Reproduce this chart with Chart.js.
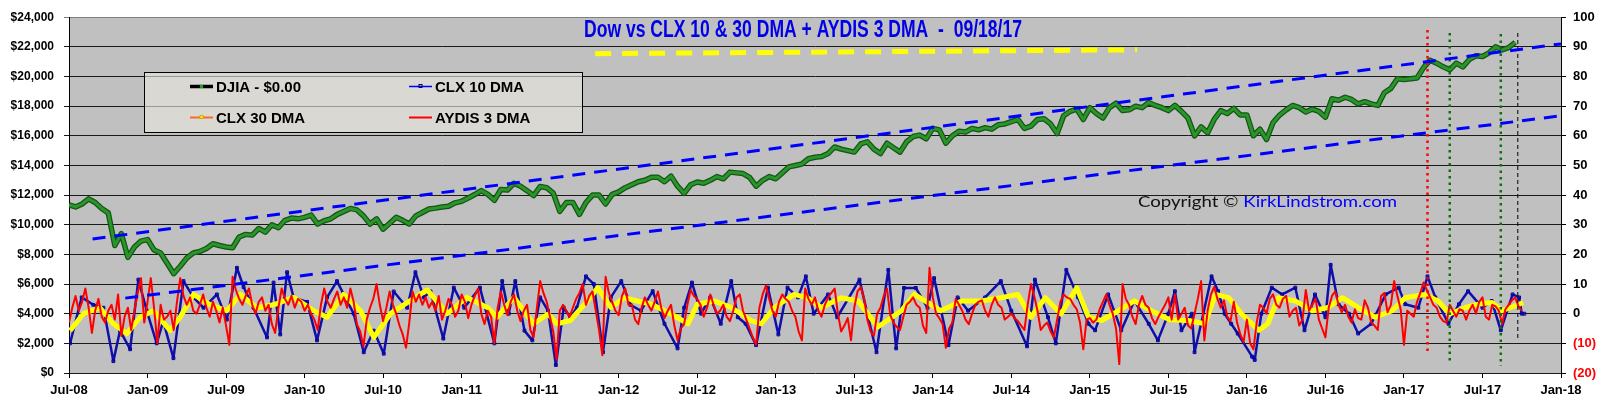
<!DOCTYPE html>
<html><head><meta charset="utf-8">
<script src="https://cdn.jsdelivr.net/npm/chart.js@4/dist/chart.umd.min.js"></script>
<style>html,body{margin:0;padding:0;background:#fff;overflow:hidden}canvas{display:block}</style>
</head><body>
<canvas id="c" width="1600" height="399"></canvas>
<script>
// ---------- DATA ----------
const titleText = "Dow vs CLX 10 & 30 DMA + AYDIS 3 DMA  -  09/18/17";
const xTickLabels = ["Jul-08","Jan-09","Jul-09","Jan-10","Jul-10","Jan-11","Jul-11","Jan-12","Jul-12","Jan-13","Jul-13","Jan-14","Jul-14","Jan-15","Jul-15","Jan-16","Jul-16","Jan-17","Jul-17","Jan-18"];
const xTickMonths = [0,6,12,18,24,30,36,42,48,54,60,66,72,78,84,90,96,102,108,114];
const leftTickValues = [0,2000,4000,6000,8000,10000,12000,14000,16000,18000,20000,22000,24000];
const rightTickValues = [-20,-10,0,10,20,30,40,50,60,70,80,90,100];

// DJIA, twice a month starting Jul-08 (month 0)
const djiaStartMonth = 0, djiaStepMonths = 0.5;
const djiaValues = [
11350,11200,11400,11750,11500,11100,10800,8600,9400,7800,8500,8900,
9000,8300,8100,7400,6700,7200,7760,8100,8200,8400,8720,8600,
8500,8450,9170,9350,9300,9750,9500,10000,9800,10300,10450,10400,
10500,10650,10050,10270,10400,10700,10900,11100,11000,10600,10050,10400,
9700,10100,10500,10300,10050,10600,10830,11060,11120,11200,11250,11480,
11580,11800,12040,12300,12050,11650,12380,12340,12800,12600,12300,11960,
12580,12500,12130,10900,11500,11500,10700,11500,12000,12000,11400,12050,
12220,12500,12700,12900,13000,13200,13200,12900,13280,12600,12120,12700,
12880,12800,13000,13250,13100,13550,13500,13450,13200,12600,13000,13250,
13100,13500,13900,14000,14100,14450,14550,14600,14800,15250,15100,15000,
14900,15450,15600,15100,14800,15500,15200,14900,15600,15950,16050,15800,
16500,16400,15500,16000,16300,16250,16500,16400,16550,16450,16750,16800,
16950,17100,16500,16650,17100,17150,16800,16150,17350,17650,17800,17100,
17900,17500,17200,17900,18200,17700,17750,18000,17900,18250,18050,17900,
17700,18050,17650,17200,16000,16600,16200,17100,17700,17500,17850,17400,
17400,16000,16450,15750,16900,17400,17750,18050,17900,17600,17800,17650,
17250,18500,18400,18600,18450,18150,18300,18150,18050,18900,19200,19850,
19800,19850,19900,20600,21100,20900,20650,20450,20900,20650,21150,21400,
21350,21600,22000,21800,21950,22300];

// CLX 10 DMA (right axis)
const clx10Months = [0.08,0.97,1.86,2.63,3.39,3.9,4.67,5.3,5.94,6.7,7.2,7.98,8.75,9.51,10.28,11.3,12.06,12.83,13.34,14.1,15.13,15.63,16.14,16.66,17.16,18.19,18.95,19.72,20.48,20.99,21.75,22.52,23.28,24.05,24.81,25.84,26.47,27.1,27.62,
28.6,29.4,30.2,31.4,32.5,33.1,33.6,34.1,34.8,35.4,36.0,36.6,37.2,37.8,38.3,38.8,39.5,40.1,40.8,41.4,42.2,42.9,43.7,44.6,45.5,46.5,47.0,47.6,48.3,49.0,49.8,50.6,51.1,51.7,52.5,53.4,54.2,54.9,55.7,56.3,
56.9,58.0,58.7,60.4,61.0,61.7,62.6,63.2,63.8,64.7,65.6,66.1,67.2,67.9,68.7,70.0,71.2,72.0,73.2,73.8,74.8,75.4,76.2,77.1,77.9,78.4,79.4,80.4,81.4,82.5,83.2,84.0,84.5,
85.0,85.8,86.0,86.5,87.3,87.8,88.3,88.8,89.3,90.4,90.6,91.1,91.9,92.7,93.7,94.4,95.2,96.0,96.4,97.0,97.8,98.5,99.5,100.6,101.6,102.1,103.1,103.8,104.4,105.4,106.2,106.9,108.0,108.7,109.4,110.3,110.8,111.0,111.2];
const clx10Values = [-10,5.5,3,2,-16,-5.7,-12,11.5,1,-10,-2.5,-15,11,5.5,2,6.5,-2,15.5,9,2,-8,10.5,-7,14,5.5,4,-9,5.5,11,6.5,0,-13,-5.7,-13.5,7.5,2,14,5.5,7.5,
-8.4,8.8,2,8.8,-10,11,0,11,-5.7,-9,5.5,1,-17.3,2,-1.2,2,12.6,10,-13,5.5,11,3,1,7.6,-3.4,-11.7,2,10.5,0,5.5,-3.4,11,-1.2,-3.4,-10.6,8.8,-7,8.8,5.5,12.6,
0,6.5,-1.2,11.5,0,-13,14.8,-11.7,8.7,8.7,2,12,-10.6,5.5,1,5.5,11,1,-11,11.5,-1.2,-10,14.8,5.5,-3.4,-5.6,6.5,-5.6,4.3,-3.4,-9,0,7.6,
-5.6,0,-13,-3.4,12.6,7.6,0,-3.4,-6.7,-14.5,-15.6,0,8.8,6.5,8.8,-5.6,6.5,-1.2,16.5,3.2,0,-6.7,-3.4,6.5,8.8,3.2,2,12.6,5.5,-3.4,3.2,7.6,2,4.3,-5.6,6.5,5.5,0,0];

// CLX 30 DMA (right axis)
const clx30Months = [0.08,1.1,2.37,3.39,4.41,5.43,6.45,7.73,8.49,9.51,10.79,12.06,13.09,14.36,15.63,17.17,18.7,19.72,20.99,22.27,23.29,24.56,25.58,27.37,
28.9,30.4,32.0,32.7,34.0,35.5,36.6,37.3,38.3,39.4,40.4,41.4,42.4,43.4,44.5,46.0,47.3,48.0,49.3,50.6,52.1,52.9,53.9,55.4,
56.4,57.5,59.0,60.3,61.8,63.6,64.6,66.6,68.2,69.7,71.2,72.5,73.5,74.6,75.8,77.0,77.9,78.9,80.2,81.4,82.7,84.1,
85.5,86.8,87.6,88.6,89.6,90.9,91.6,92.4,93.7,95.0,96.2,97.3,98.5,99.8,101.1,102.1,103.6,104.6,105.5,106.7,107.7,108.7,109.5,110.8,111.1];
const clx30Values = [-5.7,0,2,-3.4,-6.7,-1.2,1,-5.7,-1.2,6.5,3,1,6.5,2,3,5.5,1,-1.2,6.5,1,-8,0,3,8,
0,5.5,2,-1.2,5.5,-3.4,-0.1,-3.4,-2.3,3.2,8.7,2.1,5.4,4.3,3.2,-0.1,-3.4,3.2,4.3,2.1,-2.3,-3.4,2.1,6.5,
5.4,2.1,5.4,4.3,-4.5,1,6.5,1,4.3,4.3,5.4,6.5,-1.2,5.4,-0.1,8.7,-1.2,-2.3,1,4.3,1,-2,
-2.3,-3.4,6.5,5.4,-0.1,-5.6,-3.4,5.4,4.3,1,2.1,5.4,2.1,-1.2,1,5.4,6.5,4.3,-0.1,2.1,3.2,3.8,1,3.2,3.8];

// AYDIS 3 DMA (right axis), four readings a month starting Jul-08
const aydisStartMonth = 0, aydisStepMonths = 0.25;
const aydis3Values = [
-3,2,6,1,4,8.5,2,-6.5,1,5,-1,-3,1,3,-2,6.5,-7.5,-1,2,-5.5,1,7,12,-3,4,12,2,-10,3,-2,-1,1,-5.5,4,12,6,3,5.5,1,0,3,6.5,2,-1,4,1,-3,2,-4,-10.5,12.5,8,5,3,6,8.5,3,0,4,5.5,1,3,-3.5,-6.5,2,8.5,5,3,6,2,5,4,1,3,0,-2,-5.5,3,8.5,4,2,5,7.5,3,5.5,2,8.5,4,-3.5,-6,-11,-2,2,5,10,3,-2.5,2,7.5,3,0,-4,-7,-11.5,-3,7.5,4,6.5,3,5.5,2,4,1,
6,-2,1,5,3,-1,1,6.5,4,-1.5,3,6,8.5,0,-3.5,1,-1,-10,2,7.5,3,-0.5,4,6.5,1,-2.5,1,3,-5.5,-8,2,11,7,4,-1,-6,-15.5,1,3,1,-1,2,5,7,10,3,6,7.5,1,-5.5,-14,12.5,7,4,1,-0.5,6,8.5,3,3,-2,-3.5,2,5.5,3,1,4,7.5,2,-1.5,1,3,-4,-9,-5,-3.5,3,8,6,5,3,-1,2,6.5,3,0,1,3,-1,-2.5,1,5.5,6.5,1,-2,-5,-8,-10.5,2,6.5,9.5,5,1,-1,4,6.5,5,4,1,-1,-6,-9,8.5,5,
3,5.5,1,-1,3,5.5,7,8.5,0,-6,-4,-1.5,-9,2,7.5,9,5,-2,-6,-7.5,0,2,6,8.5,-0.5,-3,-4.5,-5.5,-1,3,4,5.5,3,2,-4,-6.5,15.5,5.5,0,-1.5,-3.5,-11.5,-5,-3,5,3,1,-2,-3.5,0,3,4,4.5,1,-1,3,5.5,3,2,-2,-1,0,-1.5,-2.5,-4,-5.5,3,10,6,1,-5.5,-4,-3,-6,-8,-2,4,6.5,5.5,5,3,1.5,-3,-12,-2,-1.5,-3,-2,1.5,4,6.5,3,0,-5,-17,10,5,3,-1,-3.5,3,6,3,2,-1.5,-3.5,-1,1,3,5.5,-2,
6.5,-2,0,2,-4,-5,0,5,11,-9,1,6.5,9,5,2,4.5,-1,-2.5,4,-3,-7,-9.5,-2,-10,-12,-3,3,2,0,5,6.5,3,2,5,6,-1,1,2,-4,-2,8,1,3,5,-2,-5,-8,2,6,7.5,3,0.5,3,-1,-3,1.5,-1.5,-2,4.5,2,-3,-4,-5.5,6,7,0.5,3,11,6,1.5,-10.5,1,0,-1,4,7,10.5,8,5.5,3,2,-1,-2.5,-3,3,1,-1,1.5,1,-2,1,3,0,4,5.5,-1,-2,3,2.5,1,-3.5,1.5,3,4.5,5.5,2.5,1];

// Trend lines (left axis)
const upperTrendMonths = [1.8, 114], upperTrendValues = [9040, 22200];
const lowerTrendMonths = [4.3, 114], lowerTrendValues = [5050, 17350];
// Yellow dashed bar under the title (left axis)
const titleBarMonths = [40.2, 81.6], titleBarValues = [21540, 21800];
// Vertical marker lines (left axis)
const markerMonths = [103.8, 105.5, 109.4, 110.7];
const markerTops = [23135, 22935, 22870, 22935];
const markerBottoms = [1330, 731, 465, 2194];
const markerColors = ['#FF0000', '#107010', '#107010', '#000000'];

const legendLabels = ["DJIA - $0.00", "CLX 10 DMA", "CLX 30 DMA", "AYDIS 3 DMA"];
const copyrightParts = ["Copyright \u00A9 ", "KirkLindstrom.com"];

// ---------- BUILD ----------
const pts = (xs, ys) => xs.map((x, i) => ({x, y: ys[i]}));
const djiaPts = djiaValues.map((v, i) => ({x: djiaStartMonth + i * djiaStepMonths, y: v}));
const aydisPts = aydis3Values.map((v, i) => ({x: aydisStartMonth + i * aydisStepMonths, y: v}));

const base = {pointRadius: 0, fill: false, tension: 0, borderJoinStyle: 'round'};
const datasets = [
  {...base, label: 'upper', data: pts(upperTrendMonths, upperTrendValues), yAxisID: 'y', borderColor: '#0000FF', borderWidth: 3, borderDash: [13, 9], order: 0},
  {...base, label: 'lower', data: pts(lowerTrendMonths, lowerTrendValues), yAxisID: 'y', borderColor: '#0000FF', borderWidth: 3, borderDash: [13, 9], order: 0},
  {...base, label: 'bar', data: pts(titleBarMonths, titleBarValues), yAxisID: 'y', borderColor: '#FFFF00', borderWidth: 5, borderDash: [16, 11], order: 0},
];
markerMonths.forEach((m, i) => {
  const black = markerColors[i] === '#000000';
  datasets.push({...base, label: 'mark' + i, data: [{x: m, y: markerTops[i]}, {x: m, y: markerBottoms[i]}], yAxisID: 'y',
    borderColor: markerColors[i], borderWidth: black ? 1 : 2.5, borderDash: black ? [4, 3] : [2.5, 4], order: 1});
});
datasets.push(
  {...base, label: legendLabels[3], data: aydisPts, yAxisID: 'y1', borderColor: '#FF0000', borderWidth: 2, order: 2},
  {...base, label: legendLabels[2], data: pts(clx30Months, clx30Values), yAxisID: 'y1', borderColor: '#FFFF00', borderWidth: 5, order: 3},
  {...base, label: legendLabels[1], data: pts(clx10Months, clx10Values), yAxisID: 'y1', borderColor: '#1010A8', borderWidth: 2.5,
    pointRadius: 2, pointStyle: 'rect', pointBorderColor: '#0000A0', pointBackgroundColor: 'rgba(0,0,0,0)', pointBorderWidth: 1, order: 4},
  {...base, label: legendLabels[0], data: djiaPts, yAxisID: 'y', borderColor: '#2A952A', borderWidth: 3, order: 5},
  {...base, label: 'djia-outline', data: djiaPts, yAxisID: 'y', borderColor: '#155515', borderWidth: 5.5, order: 6}
);

const bgPlugin = {
  id: 'bg',
  beforeDraw(chart) {
    const {ctx, chartArea: a} = chart;
    ctx.save();
    ctx.fillStyle = '#fff'; ctx.fillRect(0, 0, chart.width, chart.height);
    ctx.fillStyle = '#C0C0C0'; ctx.fillRect(a.left, a.top, a.right - a.left, a.bottom - a.top);
    ctx.restore();
  }
};
const legendPlugin = {
  id: 'customLegend',
  beforeDatasetsDraw(chart) {
    const ctx = chart.ctx;
    ctx.save();
    ctx.fillStyle = 'rgba(232,230,222,0.62)';
    ctx.fillRect(144, 72, 438, 61);
    ctx.strokeStyle = '#000'; ctx.lineWidth = 1;
    ctx.strokeRect(144.5, 72.5, 438, 60);
    ctx.font = 'bold 15px "Liberation Sans", Arial, sans-serif';
    ctx.fillStyle = '#000'; ctx.textBaseline = 'alphabetic';
    const cols = [190, 409], rows = [86, 117];
    const items = [[0, 0], [1, 0], [0, 1], [1, 1]];
    items.forEach(([c, r], i) => {
      const x = cols[c], y = rows[r];
      ctx.beginPath(); ctx.moveTo(x, y + 0.5); ctx.lineTo(x + 23, y + 0.5);
      if (i === 0) { ctx.strokeStyle = '#000'; ctx.lineWidth = 3.5; }
      if (i === 1) { ctx.strokeStyle = '#0000FF'; ctx.lineWidth = 1.5; }
      if (i === 2) { ctx.strokeStyle = '#FF6A28'; ctx.lineWidth = 2; }
      if (i === 3) { ctx.strokeStyle = '#FF0000'; ctx.lineWidth = 2; }
      ctx.stroke();
      if (i === 0) { ctx.fillStyle = '#22AA22'; ctx.beginPath(); ctx.arc(x + 11.5, y + 0.5, 1.8, 0, Math.PI * 2); ctx.fill(); }
      if (i === 1) { ctx.strokeStyle = '#000080'; ctx.lineWidth = 1; ctx.strokeRect(x + 10, y - 1.5, 3, 3); }
      if (i === 2) { ctx.strokeStyle = '#C8B400'; ctx.fillStyle = '#FFFF00'; ctx.lineWidth = 1; ctx.fillRect(x + 10, y - 1.5, 3, 3); ctx.strokeRect(x + 10, y - 1.5, 3, 3); }
      ctx.fillStyle = '#000';
      ctx.fillText(legendLabels[i], x + 26, y + 6);
    });
    ctx.restore();
  },
  afterDraw(chart) {
    const ctx = chart.ctx;
    ctx.save();
    // title
    ctx.font = 'bold 23px "Liberation Sans Narrow", "Arial Narrow", "Liberation Sans", Arial, sans-serif';
    const tw = ctx.measureText(titleText).width;
    ctx.translate(803, 37); ctx.scale(438 / tw, 1);
    ctx.textAlign = 'center'; ctx.textBaseline = 'alphabetic'; ctx.fillStyle = '#0000E6';
    ctx.fillText(titleText, 0, 0);
    ctx.restore();
    // copyright
    ctx.save();
    ctx.font = '16px Lato, "Open Sans", sans-serif';
    const w1 = ctx.measureText(copyrightParts[0]).width, w2 = ctx.measureText(copyrightParts[1]).width;
    ctx.translate(1138, 207); ctx.scale(259 / (w1 + w2), 1);
    ctx.textBaseline = 'alphabetic'; ctx.textAlign = 'left';
    ctx.fillStyle = '#111'; ctx.fillText(copyrightParts[0], 0, 0);
    ctx.fillStyle = '#0000FF'; ctx.fillText(copyrightParts[1], w1, 0);
    ctx.restore();
  }
};

const tickFont = {family: '"Liberation Sans", Arial, sans-serif', weight: 'bold', size: 13};
new Chart(document.getElementById('c'), {
  type: 'line',
  data: {datasets},
  plugins: [bgPlugin, legendPlugin],
  options: {
    responsive: false, animation: false, parsing: true, normalized: true,
    layout: {padding: {top: 12, left: 0, right: 0, bottom: 0}},
    plugins: {legend: {display: false}, tooltip: {enabled: false}, title: {display: false}},
    scales: {
      x: {
        type: 'linear', min: 0, max: 114,
        afterBuildTicks: s => { s.ticks = xTickMonths.map(v => ({value: v})); },
        afterFit: s => { s.height = 26; },
        ticks: {callback: (v, i) => xTickLabels[i], font: tickFont, color: '#000', padding: 5, maxRotation: 0, autoSkip: false},
        grid: {drawOnChartArea: false, drawTicks: true, tickLength: 5, color: '#000'},
        border: {display: false}
      },
      y: {
        type: 'linear', position: 'left', min: 0, max: 24000,
        afterBuildTicks: s => { s.ticks = leftTickValues.map(v => ({value: v})); },
        afterFit: s => { s.width = 69; },
        ticks: {callback: v => '$' + v.toLocaleString('en-US'), font: {...tickFont, size: 12}, color: '#000', padding: 10},
        grid: {color: c => (c.tick && c.tick.value === 24000) ? '#808080' : '#1a1a1a', lineWidth: 1, tickLength: 5, drawTicks: true},
        border: {display: true, color: '#000'}
      },
      y1: {
        type: 'linear', position: 'right', min: -20, max: 100,
        afterBuildTicks: s => { s.ticks = rightTickValues.map(v => ({value: v})); },
        afterFit: s => { s.width = 39; },
        ticks: {callback: v => v < 0 ? '(' + (-v) + ')' : String(v), font: tickFont, padding: 7,
          color: c => (c.tick && c.tick.value < 0) ? '#FF0000' : '#000'},
        grid: {drawOnChartArea: false, drawTicks: true, tickLength: 5, color: '#000'},
        border: {display: true, color: '#000'}
      }
    }
  }
});
</script>
</body></html>
